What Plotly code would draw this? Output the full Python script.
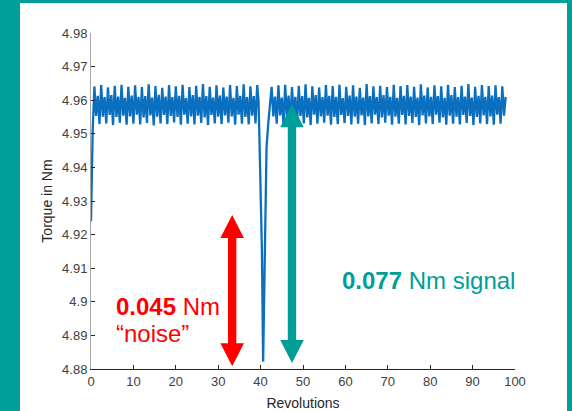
import plotly.graph_objects as go

# ---------------- data ----------------
# segment before the dip (sampled every 0.4 revolutions from 0.0 to 39.2)
torque_a = [
    4.9240, 4.9510,
    4.9641, 4.9553, 4.9613, 4.9529,
    4.9645, 4.9551, 4.9609, 4.9531,
    4.9638, 4.9556, 4.9615, 4.9526,
    4.9643, 4.9550, 4.9611, 4.9533,
    4.9646, 4.9554, 4.9607, 4.9527,
    4.9640, 4.9552, 4.9614, 4.9530,
    4.9644, 4.9557, 4.9610, 4.9528,
    4.9639, 4.9549, 4.9612, 4.9532,
    4.9647, 4.9555, 4.9608, 4.9525,
    4.9642, 4.9551, 4.9616, 4.9531,
    4.9637, 4.9556, 4.9611, 4.9529,
    4.9645, 4.9553, 4.9609, 4.9534,
    4.9641, 4.9550, 4.9613, 4.9527,
    4.9646, 4.9557, 4.9606, 4.9530,
    4.9639, 4.9552, 4.9615, 4.9528,
    4.9643, 4.9554, 4.9610, 4.9532,
    4.9648, 4.9549, 4.9612, 4.9526,
    4.9640, 4.9556, 4.9608, 4.9531,
    4.9644, 4.9551, 4.9614, 4.9529,
    4.9638, 4.9555, 4.9611, 4.9533,
    4.9645, 4.9552, 4.9607, 4.9527,
    4.9642, 4.9557, 4.9613, 4.9530,
    4.9647, 4.9550, 4.9609, 4.9528,
    4.9641, 4.9554, 4.9612, 4.9531,
    4.9645,
]
revs_a = [round(0.4 * i, 1) for i in range(len(torque_a))]

# the dip
revs_dip = [39.5, 39.7, 40.0, 40.3, 40.6, 41.0, 41.2, 41.4, 41.8, 42.2]
torque_dip = [4.9600, 4.9500, 4.9360, 4.9160, 4.8822, 4.9160, 4.9360, 4.9460, 4.9530, 4.9580]

# segment after the dip (sampled every 0.4 revolutions from 42.6)
torque_b = [
    4.9640, 4.9552, 4.9611, 4.9530,
    4.9644, 4.9555, 4.9608, 4.9527,
    4.9646, 4.9550, 4.9614, 4.9532,
    4.9639, 4.9556, 4.9610, 4.9528,
    4.9643, 4.9553, 4.9612, 4.9531,
    4.9647, 4.9549, 4.9607, 4.9526,
    4.9641, 4.9557, 4.9615, 4.9530,
    4.9638, 4.9552, 4.9609, 4.9533,
    4.9645, 4.9554, 4.9613, 4.9527,
    4.9642, 4.9550, 4.9610, 4.9529,
    4.9646, 4.9556, 4.9606, 4.9532,
    4.9640, 4.9553, 4.9614, 4.9528,
    4.9644, 4.9551, 4.9611, 4.9530,
    4.9637, 4.9555, 4.9608, 4.9526,
    4.9648, 4.9552, 4.9612, 4.9531,
    4.9641, 4.9557, 4.9609, 4.9529,
    4.9643, 4.9549, 4.9615, 4.9533,
    4.9639, 4.9554, 4.9610, 4.9527,
    4.9646, 4.9551, 4.9607, 4.9530,
    4.9642, 4.9556, 4.9613, 4.9528,
    4.9645, 4.9553, 4.9611, 4.9532,
    4.9640, 4.9550, 4.9608, 4.9526,
    4.9647, 4.9555, 4.9614, 4.9531,
    4.9638, 4.9552, 4.9610, 4.9529,
    4.9644, 4.9557, 4.9612, 4.9533,
    4.9641, 4.9549, 4.9607, 4.9527,
    4.9646, 4.9554, 4.9615, 4.9530,
    4.9639, 4.9551, 4.9609, 4.9528,
    4.9643, 4.9556, 4.9611, 4.9532,
    4.9648, 4.9553, 4.9608, 4.9526,
    4.9640, 4.9550, 4.9613, 4.9531,
    4.9645, 4.9555, 4.9610, 4.9529,
    4.9642, 4.9552, 4.9614, 4.9527,
    4.9644, 4.9557, 4.9609, 4.9530,
    4.9641, 4.9554, 4.9610,
]
revs_b = [round(42.6 + 0.4 * i, 1) for i in range(len(torque_b))]

revolutions = revs_a + revs_dip + revs_b
torque = torque_a + torque_dip + torque_b

x_ticks = [0, 10, 20, 30, 40, 50, 60, 70, 80, 90, 100]
y_ticks = [4.88, 4.89, 4.90, 4.91, 4.92, 4.93, 4.94, 4.95, 4.96, 4.97, 4.98]
y_tick_labels = ["4.88", "4.89", "4.9", "4.91", "4.92", "4.93", "4.94", "4.95", "4.96", "4.97", "4.98"]

# annotation arrows: [revolution, lower torque, upper torque]
noise_arrow = [33.3, 4.8808, 4.9258]    # 0.045 Nm
signal_arrow = [47.4, 4.8818, 4.9588]   # 0.077 Nm

# ---------------- style ----------------
LINE = "#0A6FBF"
TEAL = "#009E96"
RED = "#FF0000"
FONT = "Liberation Sans, Arial, sans-serif"

W, H = 572, 411
ML, MR, MT, MB = 91, 57, 33, 42
PW, PH = W - ML - MR, H - MT - MB


def px_x(p):
    return (p - ML) / PW


def px_y(p):
    return (H - MB - p) / PH


fig = go.Figure()
fig.add_trace(go.Scatter(x=revolutions, y=torque, mode="lines",
                         line=dict(color=LINE, width=2.3), hoverinfo="skip",
                         showlegend=False))

# arrow geometry sizes (in data units derived from pixel sizes)
x_per_px = 100 / PW
y_per_px = 0.1 / PH
shaft_hw = 4.2 * x_per_px
head_hw = 11.8 * x_per_px
head_len = 23 * y_per_px


def arrow_path(xc, y0, y1):
    pts = [
        (xc, y1), (xc + head_hw, y1 - head_len), (xc + shaft_hw, y1 - head_len),
        (xc + shaft_hw, y0 + head_len), (xc + head_hw, y0 + head_len), (xc, y0),
        (xc - head_hw, y0 + head_len), (xc - shaft_hw, y0 + head_len),
        (xc - shaft_hw, y1 - head_len), (xc - head_hw, y1 - head_len),
    ]
    return "M " + " L ".join(f"{a},{b}" for a, b in pts) + " Z"


shapes = [
    dict(type="path", xref="x", yref="y", path=arrow_path(*noise_arrow),
         fillcolor=RED, line=dict(width=0), layer="above"),
    dict(type="path", xref="x", yref="y", path=arrow_path(*signal_arrow),
         fillcolor=TEAL, line=dict(width=0), layer="above"),
    # teal frame
    dict(type="rect", xref="paper", yref="paper", x0=px_x(0), x1=px_x(20),
         y0=px_y(H), y1=px_y(0), fillcolor=TEAL, line=dict(width=0)),
    dict(type="rect", xref="paper", yref="paper", x0=px_x(0), x1=px_x(W),
         y0=px_y(3), y1=px_y(0), fillcolor=TEAL, line=dict(width=0)),
    dict(type="rect", xref="paper", yref="paper", x0=px_x(567), x1=px_x(W),
         y0=px_y(H), y1=px_y(0), fillcolor=TEAL, line=dict(width=0)),
]

annotations = [
    dict(x=5.66, y=4.8985, xref="x", yref="y", xanchor="left", yanchor="middle",
         text="<b>0.045</b> Nm", showarrow=False, borderpad=0,
         font=dict(family=FONT, size=24, color=RED)),
    dict(x=5.66, y=4.8906, xref="x", yref="y", xanchor="left", yanchor="middle",
         text="\u201cnoise\u201d", showarrow=False, borderpad=0,
         font=dict(family=FONT, size=24, color=RED)),
    dict(x=58.96, y=4.9063, xref="x", yref="y", xanchor="left", yanchor="middle",
         text="<b>0.077</b> Nm signal", showarrow=False, borderpad=0,
         font=dict(family=FONT, size=24, color=TEAL)),
]

fig.update_layout(
    width=W, height=H, autosize=False,
    margin=dict(l=ML, r=MR, t=MT, b=MB, pad=0),
    paper_bgcolor="white", plot_bgcolor="white",
    font=dict(family=FONT, size=13, color="#404040"),
    shapes=shapes, annotations=annotations,
    xaxis=dict(range=[0, 100], tickvals=x_ticks, ticks="inside", ticklen=4,
               tickcolor="#262626", showline=True, linecolor="#262626",
               linewidth=1, showgrid=False, zeroline=False, automargin=False,
               tickfont=dict(size=13, color="#404040"),
               title=dict(text="Revolutions", standoff=12,
                          font=dict(size=14, color="#262626"))),
    yaxis=dict(range=[4.88, 4.98], tickvals=y_ticks, ticktext=y_tick_labels,
               ticks="inside", ticklen=4, tickcolor="#262626", showline=True,
               linecolor="#A8A8A8", linewidth=1, showgrid=False, zeroline=False,
               automargin=False,
               tickfont=dict(size=13, color="#404040"),
               title=dict(text="Torque in Nm", standoff=6,
                          font=dict(size=14, color="#262626"))),
)

fig.write_html("out.html")
